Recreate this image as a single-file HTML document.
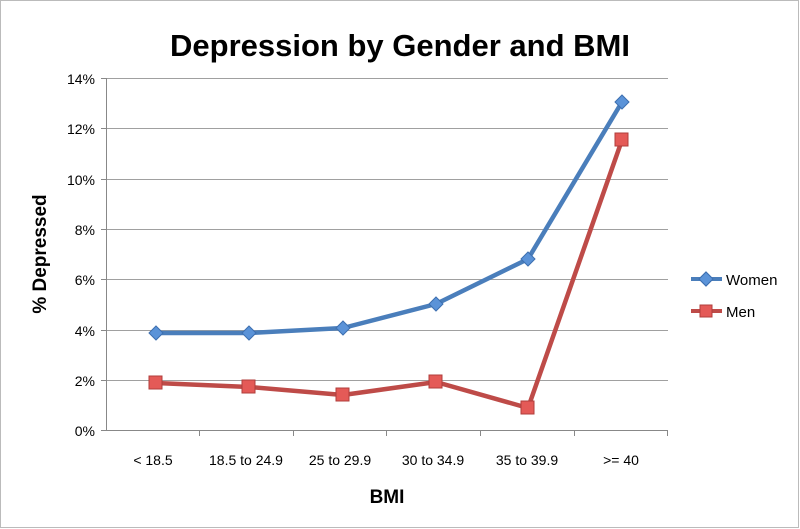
<!DOCTYPE html>
<html><head><style>body{margin:0;background:#fff}svg{display:block}</style></head><body>
<svg width="800" height="529" xmlns="http://www.w3.org/2000/svg" font-family="Liberation Sans, sans-serif">
<rect x="0.5" y="0.5" width="798" height="527" fill="#fff" stroke="#bbb"/>
<text x="400" y="56" text-anchor="middle" font-size="31" font-weight="bold">Depression by Gender and BMI</text>
<g stroke="#a0a0a0" stroke-width="1">
<line x1="106" x2="668" y1="78.5" y2="78.5"/><line x1="106" x2="668" y1="128.5" y2="128.5"/>
<line x1="106" x2="668" y1="179.5" y2="179.5"/><line x1="106" x2="668" y1="229.5" y2="229.5"/>
<line x1="106" x2="668" y1="279.5" y2="279.5"/><line x1="106" x2="668" y1="330.5" y2="330.5"/>
<line x1="106" x2="668" y1="380.5" y2="380.5"/>
</g>
<g stroke="#888" stroke-width="1">
<line x1="106.5" x2="106.5" y1="78" y2="430"/><line x1="106" x2="668" y1="430.5" y2="430.5"/>
<line x1="101" x2="106" y1="78.5" y2="78.5"/><line x1="101" x2="106" y1="128.5" y2="128.5"/><line x1="101" x2="106" y1="179.5" y2="179.5"/><line x1="101" x2="106" y1="229.5" y2="229.5"/><line x1="101" x2="106" y1="279.5" y2="279.5"/><line x1="101" x2="106" y1="330.5" y2="330.5"/><line x1="101" x2="106" y1="380.5" y2="380.5"/><line x1="101" x2="106" y1="430.5" y2="430.5"/>
<line x1="199.5" x2="199.5" y1="430" y2="436"/><line x1="293.5" x2="293.5" y1="430" y2="436"/><line x1="386.5" x2="386.5" y1="430" y2="436"/><line x1="480.5" x2="480.5" y1="430" y2="436"/><line x1="574.5" x2="574.5" y1="430" y2="436"/><line x1="667.5" x2="667.5" y1="430" y2="436"/>
</g>
<g font-size="14" text-anchor="end">
<text x="95" y="84">14%</text><text x="95" y="134">12%</text><text x="95" y="185">10%</text><text x="95" y="235">8%</text><text x="95" y="285">6%</text><text x="95" y="336">4%</text><text x="95" y="386">2%</text><text x="95" y="436">0%</text>
</g>
<g font-size="14" text-anchor="middle">
<text x="153" y="465">&lt; 18.5</text><text x="246" y="465">18.5 to 24.9</text><text x="340" y="465">25 to 29.9</text><text x="433" y="465">30 to 34.9</text><text x="527" y="465">35 to 39.9</text><text x="621" y="465">&gt;= 40</text>
</g>
<text x="387" y="503" text-anchor="middle" font-size="19" font-weight="bold">BMI</text>
<text transform="translate(46,254) rotate(-90)" text-anchor="middle" font-size="19" font-weight="bold">% Depressed</text>
<polyline fill="none" stroke="#4a7ebb" stroke-width="4.5" stroke-linejoin="round" points="156,333 249,333 343,328 436,304 528,259 622,102"/>
<polyline fill="none" stroke="#be4b48" stroke-width="4.5" stroke-linejoin="round" points="156,383 249,387 343,395 436,382 528,408 622,140"/>
<g fill="#5b93d8" stroke="#3d6fb0" stroke-width="1">
<path d="M156 326 L163 333 L156 340 L149 333Z"/><path d="M249 326 L256 333 L249 340 L242 333Z"/><path d="M343 321 L350 328 L343 335 L336 328Z"/><path d="M436 297 L443 304 L436 311 L429 304Z"/><path d="M528 252 L535 259 L528 266 L521 259Z"/><path d="M622 95 L629 102 L622 109 L615 102Z"/>
<path d="M706 272 L713 279 L706 286 L699 279Z" transform=""/>
</g>
<g fill="#e45a57" stroke="#b03e3b" stroke-width="1">
<rect x="149" y="376" width="13" height="13"/><rect x="242" y="380" width="13" height="13"/><rect x="336" y="388" width="13" height="13"/><rect x="429" y="375" width="13" height="13"/><rect x="521" y="401" width="13" height="13"/><rect x="615" y="133" width="13" height="13"/>
</g>
<line x1="691" x2="722" y1="279" y2="279" stroke="#4a7ebb" stroke-width="4"/>
<path d="M706 272 L713 279 L706 286 L699 279Z" fill="#5b93d8" stroke="#3d6fb0"/>
<line x1="691" x2="722" y1="311" y2="311" stroke="#be4b48" stroke-width="4"/>
<rect x="700" y="305" width="12" height="12" fill="#e45a57" stroke="#b03e3b"/>
<text x="726" y="285" font-size="15">Women</text>
<text x="726" y="317" font-size="15">Men</text>
</svg>
</body></html>
